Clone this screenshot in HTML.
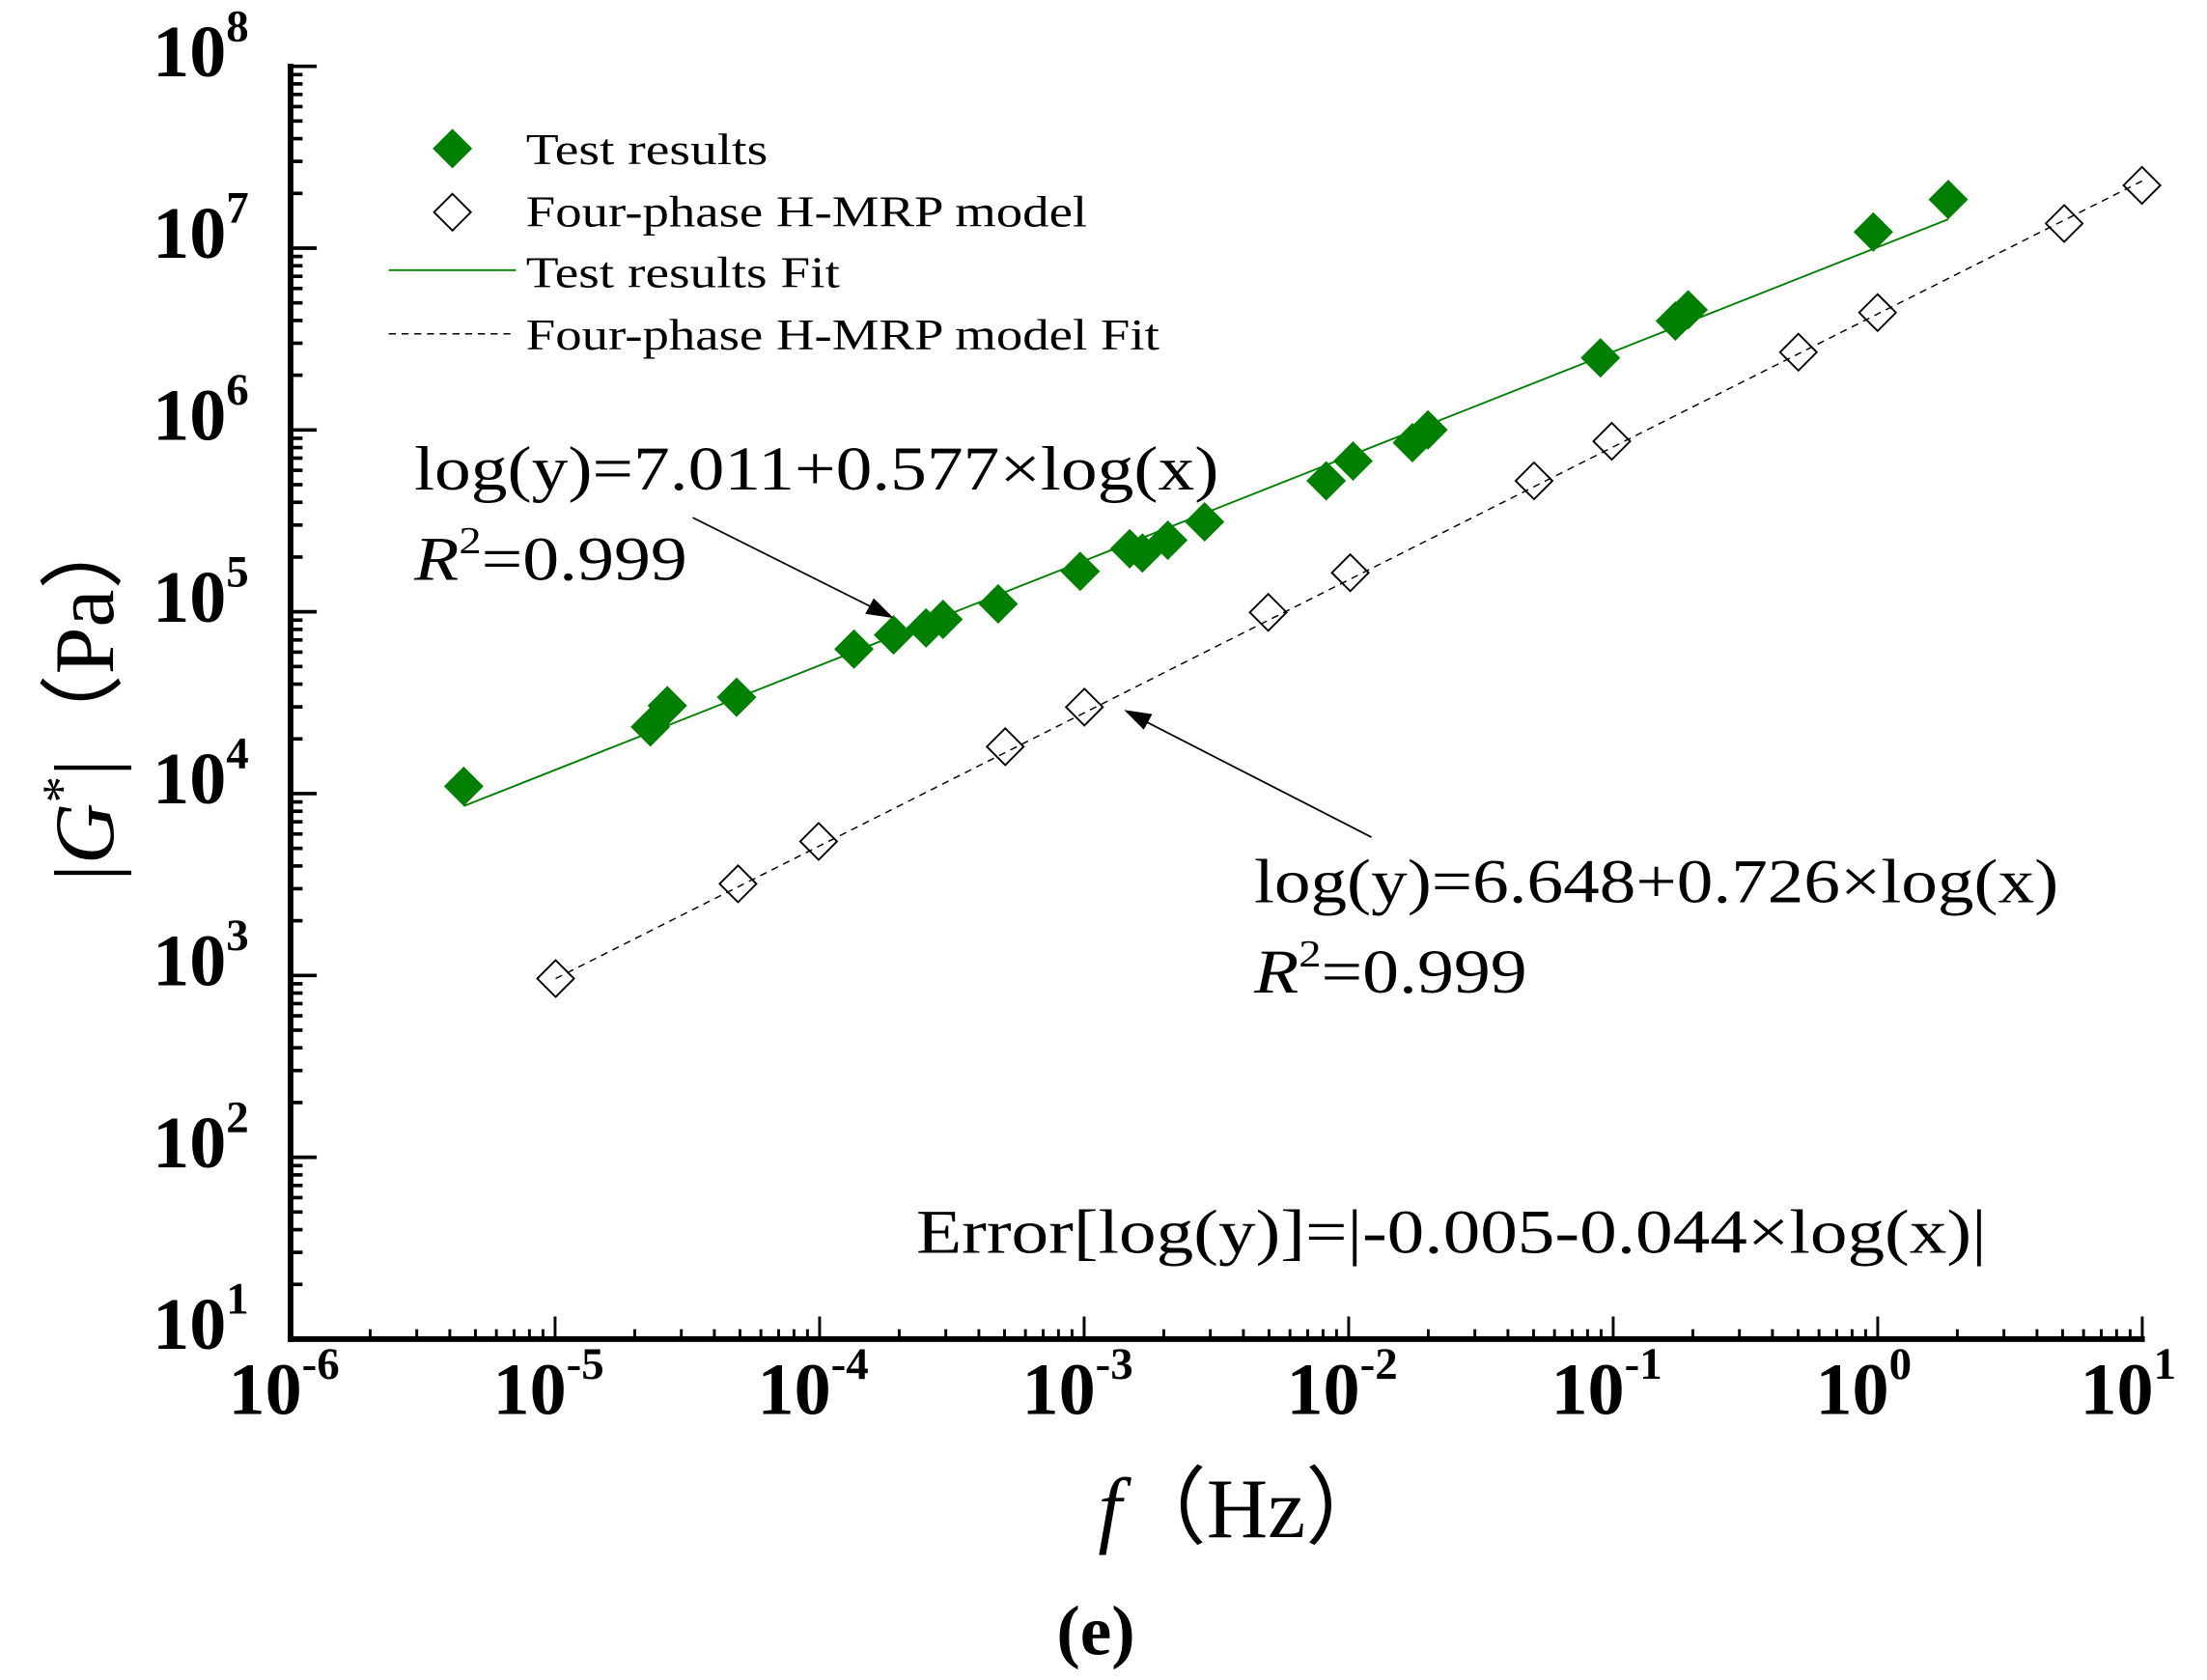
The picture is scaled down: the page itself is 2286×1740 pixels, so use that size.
<!DOCTYPE html>
<html><head><meta charset="utf-8"><style>html,body{margin:0;padding:0;background:#fff}svg{display:block}text,tspan{font-family:"Liberation Serif","Times New Roman",Times,serif}</style></head>
<body>
<svg id="s" xmlns="http://www.w3.org/2000/svg" width="2286" height="1740" viewBox="0 0 1561 1188" font-family="Liberation Serif, Times New Roman, serif">
<rect width="1561" height="1188" fill="#fff"/>
<g id="ticks" stroke="#000" stroke-width="2"></g>
<line x1="205.5" y1="45" x2="205.5" y2="949" stroke="#000" stroke-width="4"/>
<line x1="203.5" y1="947" x2="1517" y2="947" stroke="#000" stroke-width="4"/>
<g font-weight="bold" fill="#000" font-size="52">
<text x="108" y="954">10<tspan font-size="32" dy="-25">1</tspan></text>
<text x="108" y="825.4">10<tspan font-size="32" dy="-25">2</tspan></text>
<text x="108" y="696.8">10<tspan font-size="32" dy="-25">3</tspan></text>
<text x="108" y="568.2">10<tspan font-size="32" dy="-25">4</tspan></text>
<text x="108" y="439.6">10<tspan font-size="32" dy="-25">5</tspan></text>
<text x="108" y="311">10<tspan font-size="32" dy="-25">6</tspan></text>
<text x="108" y="182.4">10<tspan font-size="32" dy="-25">7</tspan></text>
<text x="108" y="53.8">10<tspan font-size="32" dy="-25">8</tspan></text>
<text x="161.5" y="1000">10<tspan font-size="32" dy="-25">-6</tspan></text>
<text x="348.6" y="1000">10<tspan font-size="32" dy="-25">-5</tspan></text>
<text x="535.7" y="1000">10<tspan font-size="32" dy="-25">-4</tspan></text>
<text x="722.8" y="1000">10<tspan font-size="32" dy="-25">-3</tspan></text>
<text x="909.9" y="1000">10<tspan font-size="32" dy="-25">-2</tspan></text>
<text x="1097" y="1000">10<tspan font-size="32" dy="-25">-1</tspan></text>
<text x="1284.1" y="1000">10<tspan font-size="32" dy="-25">0</tspan></text>
<text x="1471.2" y="1000">10<tspan font-size="32" dy="-25">1</tspan></text>
</g>
<line x1="328" y1="570" x2="1378" y2="155" stroke="#008000" stroke-width="1.3"/>
<line x1="393" y1="692" x2="1515" y2="128" stroke="#000" stroke-width="1" stroke-dasharray="5,4"/>
<g id="pts"></g>
<path d="M320 91 L334 105 L320 119 L306 105Z" fill="#008000"/>
<path d="M320 137 L333 150 L320 163 L307 150Z" fill="none" stroke="#000" stroke-width="1.3"/>
<line x1="275" y1="191" x2="365" y2="191" stroke="#008000" stroke-width="1.3"/>
<line x1="275" y1="236" x2="365" y2="236" stroke="#000" stroke-width="1" stroke-dasharray="5,4"/>
<g font-size="31" fill="#000">
<text x="372" y="116" textLength="171" lengthAdjust="spacingAndGlyphs">Test results</text>
<text x="372" y="160" textLength="397" lengthAdjust="spacingAndGlyphs">Four-phase H-MRP model</text>
<text x="372" y="203" textLength="222" lengthAdjust="spacingAndGlyphs">Test results Fit</text>
<text x="372" y="247" textLength="448" lengthAdjust="spacingAndGlyphs">Four-phase H-MRP model Fit</text>
</g>
<g font-size="44" fill="#000">
<text x="293" y="346" textLength="569" lengthAdjust="spacingAndGlyphs">log(y)=7.011+0.577×log(x)</text>
<text x="293" y="410" textLength="193" lengthAdjust="spacingAndGlyphs"><tspan font-style="italic">R</tspan><tspan font-size="27" dy="-19">2</tspan><tspan dy="19">=0.999</tspan></text>
<text x="887" y="638" textLength="569" lengthAdjust="spacingAndGlyphs">log(y)=6.648+0.726×log(x)</text>
<text x="887" y="702" textLength="193" lengthAdjust="spacingAndGlyphs"><tspan font-style="italic">R</tspan><tspan font-size="27" dy="-19">2</tspan><tspan dy="19">=0.999</tspan></text>
<text x="648" y="886" textLength="757" lengthAdjust="spacingAndGlyphs">Error[log(y)]=|-0.005-0.044×log(x)|</text>
</g>
<line x1="490" y1="366" x2="620" y2="431" stroke="#000" stroke-width="1.2"/>
<path d="M632 437 L612 434 L618 423Z" fill="#000"/>
<line x1="970" y1="592" x2="806" y2="508" stroke="#000" stroke-width="1.2"/>
<path d="M795 502 L815 505 L809 516Z" fill="#000"/>
<text transform="translate(80,490) rotate(-90)" text-anchor="middle" font-size="60" fill="#000">|<tspan font-style="italic">G</tspan><tspan font-size="38" dy="-24">*</tspan><tspan dy="24">|（Pa）</tspan></text>
<text x="880" y="1087" text-anchor="middle" font-size="60" fill="#000"><tspan font-style="italic">f</tspan>（Hz）</text>
<text x="775" y="1170" text-anchor="middle" font-size="50" font-weight="bold" fill="#000">(e)</text>
<script>
var X0=205.5,DX=187.1,Y0=947,DY=128.6,ns="http://www.w3.org/2000/svg";
var t=document.getElementById('ticks'),p=document.getElementById('pts');
function ln(a,b,c,d,w){var e=document.createElementNS(ns,'line');e.setAttribute('x1',a);e.setAttribute('y1',b);e.setAttribute('x2',c);e.setAttribute('y2',d);if(w)e.setAttribute('stroke-width',w);t.appendChild(e);}
for(var d=0;d<7;d++){for(var m=1;m<10;m++){var y=Y0-DY*(d+Math.log10(m));var x=X0+DX*(d+Math.log10(m));
 if(m==1){ln(205,y,224,y,2.5);ln(x,947,x,931,2);}else{ln(205,y,214,y,2.5);ln(x,947,x,940,2);}}}
ln(205,Y0-7*DY,224,Y0-7*DY,2.5);ln(X0+7*DX,947,X0+7*DX,931,2);
var G=[[328,556],[460,514],[472,499],[521,493],[604,459],[632,449],[655,444],[667,438],[706,427],[764,404],[799,388],[808,391],[826,382],[852,369],[938,340],[957,326],[999,313],[1010,304],[1132,253],[1185,227],[1194,219],[1325,164],[1378,141]];
G.forEach(function(q){var e=document.createElementNS(ns,'path');e.setAttribute('d','M'+q[0]+' '+(q[1]-14)+'l14 14l-14 14l-14 -14z');e.setAttribute('fill','#008000');p.appendChild(e);});
var M=[[393,692],[522,625],[579,595],[711,528],[767,500],[897,433],[955,405],[1085,340],[1140,312],[1272,249],[1328,221],[1460,158],[1515,131]];
M.forEach(function(q){var e=document.createElementNS(ns,'path');e.setAttribute('d','M'+q[0]+' '+(q[1]-13)+'l13 13l-13 13l-13 -13z');e.setAttribute('fill','none');e.setAttribute('stroke','#000');e.setAttribute('stroke-width','1.3');p.appendChild(e);});
</script>
</svg>
</body></html>
